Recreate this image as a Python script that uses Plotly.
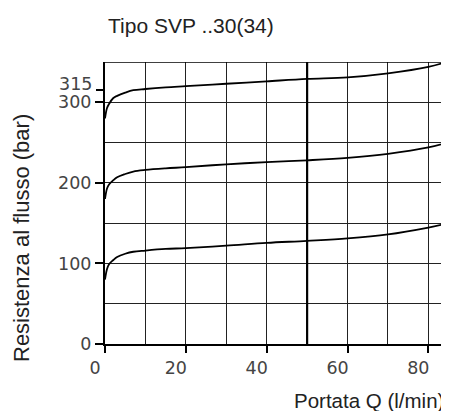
import plotly.graph_objects as go

# Data
flow = [0, 0.5, 1, 2, 3, 5, 7, 10, 15, 20, 30, 40, 50, 60, 70, 80, 85.1]
p100 = [80, 93, 99, 104, 108, 112, 114.5, 116, 118, 119, 122, 125.5, 128, 131, 136, 144.5, 150]
p200 = [180, 193, 198, 203, 207, 211, 214, 216, 218, 219.5, 223, 225.7, 228, 231, 236, 244, 250.5]
p300 = [280, 293, 298, 305, 308, 312, 315, 316.5, 318.5, 320, 323, 326, 329, 331, 336, 344, 351]

x_ticks = [0, 20, 40, 60, 80]
x_grid = [10, 20, 30, 40, 50, 60, 70, 80]
y_ticks = [0, 100, 200, 300]
y_ticks_extra = [315]
y_grid = [50, 100, 150, 200, 250, 300, 350]

title_text = "Tipo SVP ..30(34)"
x_title = "Portata Q (l/min)"
y_title = "Resistenza al flusso (bar)"

OFF = 8  # page body margin
W, H = 449 - OFF, 411 - OFF
L, R, T, B = 105 - OFF, 0, 62 - OFF, 67
pw, ph = W - L - R, H - T - B


def px_x(p):
    return (p - OFF - L) / pw


def px_y(p):
    return (T + ph - (p - OFF)) / ph


fig = go.Figure()
for series in (p100, p200, p300):
    fig.add_trace(go.Scatter(x=flow, y=series, mode="lines",
                             line=dict(color="black", width=1.8, shape="spline"),
                             xaxis="x", yaxis="y", showlegend=False, hoverinfo="skip"))

tick_font = dict(family="DejaVu Sans", size=17.5, color="#444")
grid_col = "#222222"
lbl_axis = dict(ticks="outside", ticklen=8, tickwidth=1.5, tickcolor="black",
                showgrid=False, zeroline=False, tickfont=tick_font, automargin=False)

fig.update_layout(
    width=W, height=H,
    margin=dict(l=L, r=R, t=T, b=B, autoexpand=False),
    plot_bgcolor="white", paper_bgcolor="white",
    xaxis=dict(range=[0, 85.1], tickvals=x_grid, showticklabels=False, ticks="",
               showgrid=True, gridcolor=grid_col, gridwidth=1, zeroline=False,
               showline=False, automargin=False),
    yaxis=dict(range=[0, 350], tickvals=y_grid, showticklabels=False, ticks="",
               showgrid=True, gridcolor=grid_col, gridwidth=1, zeroline=False,
               showline=False, automargin=False),
    xaxis2=dict(range=[0, 85.1], overlaying="x", side="bottom", anchor="y2",
                tickvals=x_ticks, ticks="outside", ticklen=7, tickwidth=1.5,
                tickcolor="black", showgrid=False, zeroline=False,
                showline=True, linecolor="black", linewidth=2,
                tickfont=tick_font, ticklabelshift=-10, automargin=False),
    yaxis2=dict(range=[0, 350], overlaying="y", side="left", anchor="x2",
                tickvals=y_ticks, showline=True, linecolor="black", linewidth=2,
                **lbl_axis),
    yaxis3=dict(range=[0, 350], overlaying="y", side="left", anchor="x2",
                tickvals=y_ticks_extra, showline=False,
                ticklabelposition="outside top", ticklabelshift=7,
                ticklabelstandoff=8, **lbl_axis),
)

# dummy traces to activate secondary axes
fig.add_trace(go.Scatter(x=[None], y=[None], xaxis="x2", yaxis="y2",
                         showlegend=False, hoverinfo="skip"))
fig.add_trace(go.Scatter(x=[None], y=[None], xaxis="x2", yaxis="y3",
                         showlegend=False, hoverinfo="skip"))

# thick line at 50 l/min and top border
fig.add_shape(type="line", xref="x", yref="paper", x0=50, x1=50, y0=0, y1=1,
              line=dict(color="black", width=2.2))
fig.add_shape(type="line", xref="paper", yref="y", x0=0, x1=1, y0=350, y1=350,
              line=dict(color="black", width=1.5))

fig.add_annotation(text=title_text, xref="paper", yref="paper",
                   x=px_x(191), y=px_y(25), xanchor="center", yanchor="middle",
                   showarrow=False,
                   font=dict(family="Liberation Sans", size=21, color="#222"))
fig.add_annotation(text=x_title, xref="paper", yref="paper",
                   x=px_x(445), y=px_y(400), borderpad=0,
                   xanchor="right", yanchor="middle", showarrow=False,
                   font=dict(family="Liberation Sans", size=20.5, color="#222"))
fig.add_annotation(text=y_title, xref="paper", yref="paper",
                   x=px_x(21), y=px_y(238), textangle=-90,
                   xanchor="center", yanchor="middle", showarrow=False,
                   font=dict(family="Liberation Sans", size=22, color="#222"))

fig.write_html("out.html")
